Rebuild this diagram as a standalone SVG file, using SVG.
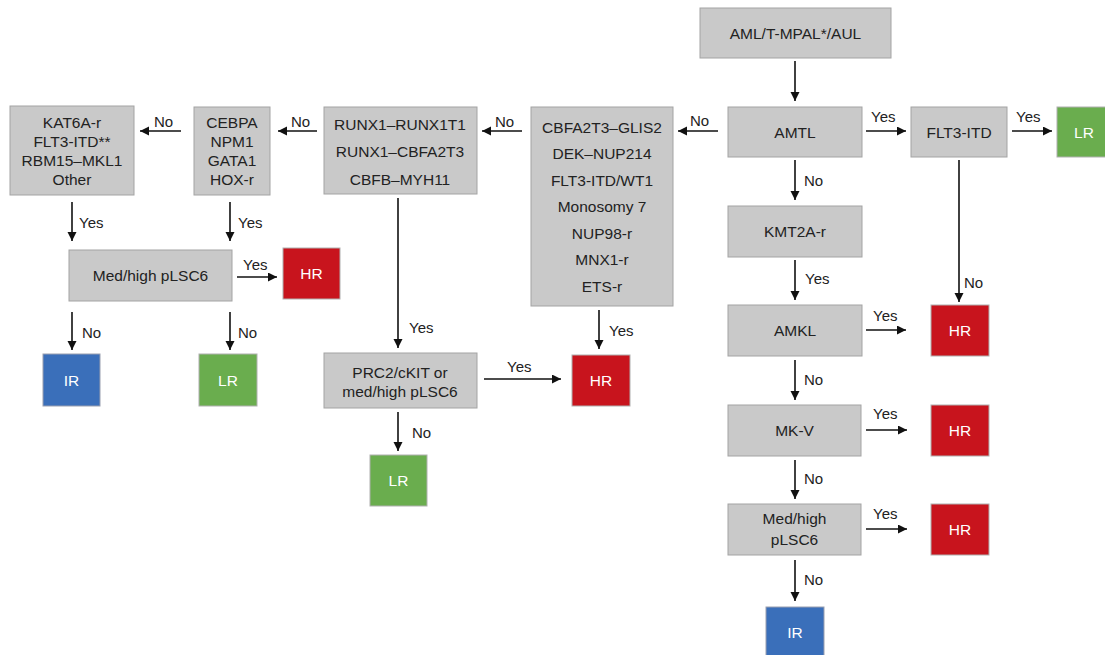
<svg xmlns="http://www.w3.org/2000/svg" width="1105" height="655" viewBox="0 0 1105 655">
<style>
.box{fill:#c9c9c9;stroke:#a3a3a3;stroke-width:1}
.hr{fill:#c8141d;stroke:#b0b0b0;stroke-width:1}
.lr{fill:#6aad4e;stroke:#b0b0b0;stroke-width:1}
.ir{fill:#3a6fba;stroke:#9aa0b0;stroke-width:1}
text{font-family:"Liberation Sans",Arial,sans-serif;font-size:15.5px;fill:#222}
.c{text-anchor:middle}
.w{fill:#fff}
.lbl{font-size:15px;fill:#222}
.ln{stroke:#111;stroke-width:1.6;fill:none;marker-end:url(#ah)}
</style>
<defs>
<marker id="ah" markerUnits="userSpaceOnUse" markerWidth="10" markerHeight="10" refX="9" refY="4.5" orient="auto"><path d="M0,0 L9,4.5 L0,9 z" fill="#111"/></marker>
</defs>
<rect width="1105" height="655" fill="#fff"/>

<g id="connectors">
<line class="ln" x1="795" y1="61" x2="795" y2="101"/>
<line class="ln" x1="866" y1="131" x2="906" y2="131"/>
<line class="ln" x1="1012" y1="131" x2="1052" y2="131"/>
<line class="ln" x1="795" y1="160" x2="795" y2="200"/>
<line class="ln" x1="959" y1="160" x2="959" y2="302"/>
<line class="ln" x1="795" y1="260" x2="795" y2="300"/>
<line class="ln" x1="866" y1="330" x2="906" y2="330"/>
<line class="ln" x1="795" y1="360" x2="795" y2="400"/>
<line class="ln" x1="866" y1="430" x2="907" y2="430"/>
<line class="ln" x1="795" y1="460" x2="795" y2="499"/>
<line class="ln" x1="866" y1="529" x2="907" y2="529"/>
<line class="ln" x1="795" y1="560" x2="795" y2="601"/>
<line class="ln" x1="718" y1="131" x2="678" y2="131"/>
<line class="ln" x1="522" y1="131" x2="482" y2="131"/>
<line class="ln" x1="599" y1="310" x2="599" y2="349"/>
<line class="ln" x1="398" y1="198" x2="398" y2="348"/>
<line class="ln" x1="484" y1="379" x2="561" y2="379"/>
<line class="ln" x1="398" y1="412" x2="398" y2="451"/>
<line class="ln" x1="317" y1="131" x2="278" y2="131"/>
<line class="ln" x1="181" y1="131" x2="140" y2="131"/>
<line class="ln" x1="72" y1="202" x2="72" y2="241"/>
<line class="ln" x1="230" y1="202" x2="230" y2="241"/>
<line class="ln" x1="237" y1="277" x2="277" y2="277"/>
<line class="ln" x1="72" y1="312" x2="72" y2="350"/>
<line class="ln" x1="230" y1="312" x2="230" y2="350"/>
<text class="lbl" x="871" y="122">Yes</text>
<text class="lbl" x="1016" y="122">Yes</text>
<text class="lbl" x="804" y="186">No</text>
<text class="lbl" x="805" y="284">Yes</text>
<text class="lbl" x="873" y="321">Yes</text>
<text class="lbl" x="964" y="288">No</text>
<text class="lbl" x="804" y="385">No</text>
<text class="lbl" x="873" y="419">Yes</text>
<text class="lbl" x="804" y="484">No</text>
<text class="lbl" x="873" y="519">Yes</text>
<text class="lbl" x="804" y="585">No</text>
<text class="lbl" x="690" y="126">No</text>
<text class="lbl" x="495" y="127">No</text>
<text class="lbl" x="609" y="336">Yes</text>
<text class="lbl" x="409" y="333">Yes</text>
<text class="lbl" x="507" y="372">Yes</text>
<text class="lbl" x="412" y="438">No</text>
<text class="lbl" x="291" y="127">No</text>
<text class="lbl" x="154" y="127">No</text>
<text class="lbl" x="79" y="228">Yes</text>
<text class="lbl" x="238" y="228">Yes</text>
<text class="lbl" x="243" y="270">Yes</text>
<text class="lbl" x="82" y="338">No</text>
<text class="lbl" x="238" y="338">No</text>
</g>

<g id="n-start"><rect class="box" x="700" y="8" width="191" height="50"/><text class="c" x="795.5" y="38.5">AML/T-MPAL*/AUL</text></g>
<g id="n-amtl"><rect class="box" x="728" y="107" width="134" height="50"/><text class="c" x="795" y="137.5">AMTL</text></g>
<g id="n-flt3"><rect class="box" x="911" y="107" width="96" height="50"/><text class="c" x="959" y="137.5">FLT3-ITD</text></g>
<g id="n-lr1"><rect class="lr" x="1057" y="107" width="52" height="50"/><text class="c w" x="1084" y="137.5">LR</text></g>
<g id="n-kmt2a"><rect class="box" x="728" y="206" width="134" height="51"/><text class="c" x="795" y="237">KMT2A-r</text></g>
<g id="n-amkl"><rect class="box" x="728" y="305" width="134" height="51"/><text class="c" x="795" y="336">AMKL</text></g>
<g id="n-hr1"><rect class="hr" x="931" y="305" width="58" height="51"/><text class="c w" x="960" y="336">HR</text></g>
<g id="n-mkv"><rect class="box" x="728" y="405" width="133" height="51"/><text class="c" x="794.5" y="436">MK-V</text></g>
<g id="n-hr2"><rect class="hr" x="931" y="405" width="58" height="51"/><text class="c w" x="960" y="436">HR</text></g>
<g id="n-plsc6r"><rect class="box" x="728" y="504" width="133" height="51"/><text class="c" x="794.5" y="523.5">Med/high</text><text class="c" x="794.5" y="544.5">pLSC6</text></g>
<g id="n-hr3"><rect class="hr" x="931" y="504" width="58" height="51"/><text class="c w" x="960" y="535">HR</text></g>
<g id="n-ir1"><rect class="ir" x="766" y="607" width="58" height="52"/><text class="c w" x="795" y="638">IR</text></g>
<g id="n-cbfa"><rect class="box" x="531" y="107" width="142" height="199"/>
<text class="c" x="602" y="132.5">CBFA2T3–GLIS2</text>
<text class="c" x="602" y="159">DEK–NUP214</text>
<text class="c" x="602" y="185.5">FLT3-ITD/WT1</text>
<text class="c" x="602" y="212">Monosomy 7</text>
<text class="c" x="602" y="238.5">NUP98-r</text>
<text class="c" x="602" y="265">MNX1-r</text>
<text class="c" x="602" y="291.5">ETS-r</text></g>
<g id="n-hr4"><rect class="hr" x="572" y="355" width="58" height="51"/><text class="c w" x="601" y="386">HR</text></g>
<g id="n-runx"><rect class="box" x="324" y="107" width="153" height="87"/>
<text class="c" x="400" y="129.5">RUNX1–RUNX1T1</text>
<text class="c" x="400" y="157">RUNX1–CBFA2T3</text>
<text class="c" x="400" y="184.5">CBFB–MYH11</text></g>
<g id="n-prc2"><rect class="box" x="324" y="353" width="153" height="55"/><text class="c" x="400" y="377.5">PRC2/cKIT or</text><text class="c" x="400" y="396.5">med/high pLSC6</text></g>
<g id="n-lr2"><rect class="lr" x="370" y="455" width="57" height="51"/><text class="c w" x="398.5" y="486">LR</text></g>
<g id="n-cebpa"><rect class="box" x="194" y="107" width="76" height="88"/>
<text class="c" x="232" y="127.5">CEBPA</text>
<text class="c" x="232" y="146.5">NPM1</text>
<text class="c" x="232" y="165.5">GATA1</text>
<text class="c" x="232" y="184.5">HOX-r</text></g>
<g id="n-kat6a"><rect class="box" x="10" y="106" width="124" height="89"/>
<text class="c" x="72" y="127.5">KAT6A-r</text>
<text class="c" x="72" y="146.5">FLT3-ITD**</text>
<text class="c" x="72" y="165.5">RBM15–MKL1</text>
<text class="c" x="72" y="184.5">Other</text></g>
<g id="n-plsc6l"><rect class="box" x="69" y="250" width="163" height="51"/><text class="c" x="150.5" y="281">Med/high pLSC6</text></g>
<g id="n-hr5"><rect class="hr" x="283" y="248" width="57" height="51"/><text class="c w" x="311.5" y="279">HR</text></g>
<g id="n-ir2"><rect class="ir" x="43" y="354" width="57" height="52"/><text class="c w" x="71.5" y="385.5">IR</text></g>
<g id="n-lr3"><rect class="lr" x="199" y="354" width="58" height="52"/><text class="c w" x="228" y="385.5">LR</text></g>
</svg>
